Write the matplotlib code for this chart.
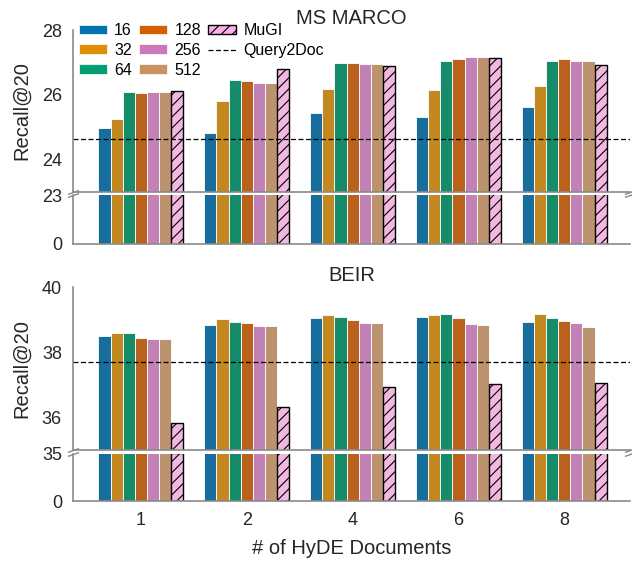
import colorsys

import numpy as np
import matplotlib
matplotlib.use("Agg")
from matplotlib import pyplot as plt
from matplotlib import colors as mcolors
from matplotlib.patches import Patch
from matplotlib.lines import Line2D

plt.rcParams["font.family"] = ["Liberation Sans", "DejaVu Sans"]
plt.rcParams["hatch.linewidth"] = 0.8

# -----------------------------------------------------------------------------
# data
# -----------------------------------------------------------------------------
n_docs = ["1", "2", "4", "6", "8"]
chunk_sizes = ["16", "32", "64", "128", "256", "512"]

msmarco = [
    [24.97, 24.83, 25.43, 25.31, 25.62],  # 16
    [25.25, 25.80, 26.18, 26.14, 26.27],  # 32
    [26.09, 26.45, 26.98, 27.04, 27.03],  # 64
    [26.07, 26.43, 26.98, 27.10, 27.10],  # 128
    [26.09, 26.37, 26.96, 27.16, 27.05],  # 256
    [26.09, 26.37, 26.96, 27.16, 27.05],  # 512
]
msmarco_mugi = [26.12, 26.79, 26.89, 27.13, 26.91]
msmarco_q2d = 24.65

beir = [
    [38.51, 38.84, 39.06, 39.07, 38.92],  # 16
    [38.60, 39.03, 39.15, 39.14, 39.18],  # 32
    [38.58, 38.93, 39.07, 39.18, 39.05],  # 64
    [38.43, 38.89, 38.99, 39.05, 38.96],  # 128
    [38.41, 38.79, 38.90, 38.87, 38.90],  # 256
    [38.41, 38.79, 38.90, 38.84, 38.78],  # 512
]
beir_mugi = [35.83, 36.32, 36.93, 37.03, 37.05]
beir_q2d = 37.69

# -----------------------------------------------------------------------------
# style
# -----------------------------------------------------------------------------
palette = ["#0173B2", "#DE8F05", "#029E73", "#D55E00", "#CC78BC", "#CA9161"]
mugi_color = "#FBAFE4"
spine_color = "#8a8a8a"


def desaturate(c, prop=0.75):
    r, g, b = mcolors.to_rgb(c)
    h, l, s = colorsys.rgb_to_hls(r, g, b)
    return colorsys.hls_to_rgb(h, l, s * prop)


L, W = 73 / 632, 557 / 632
FH = 561


def fig_box(top_px, bottom_px):
    return [L, 1 - bottom_px / FH, W, (bottom_px - top_px) / FH]


def draw_bars(ax, series, mugi):
    x = np.arange(len(n_docs))
    n = len(series) + 1
    w = 0.8 / n
    for i, vals in enumerate(series):
        ax.bar(x - 0.4 + w * (i + 0.5), vals, width=w,
               color=desaturate(palette[i]), edgecolor="white", linewidth=0.6)
    ax.bar(x - 0.4 + w * (n - 0.5), mugi, width=w, color=desaturate(mugi_color),
           edgecolor="black", linewidth=1.0, hatch="///")
    ax.set_xlim(-0.64, 4.62)


def style_ax(ax):
    for s in ["top", "right"]:
        ax.spines[s].set_visible(False)
    for s in ["left", "bottom"]:
        ax.spines[s].set_color(spine_color)
        ax.spines[s].set_linewidth(1.2)
    ax.tick_params(length=0, labelsize=13, pad=8, colors="#262626")


def broken_panel(fig, box_hi, box_lo, series, mugi, q2d, lo, hi, hi_ticks, title,
                 show_x):
    ax_hi = fig.add_axes(fig_box(*box_hi))
    ax_lo = fig.add_axes(fig_box(*box_lo))
    for ax in (ax_hi, ax_lo):
        draw_bars(ax, series, mugi)
        style_ax(ax)
    ax_hi.set_ylim(lo, hi)
    ax_hi.set_yticks(hi_ticks)
    ax_lo.set_ylim(0, lo)
    ax_lo.set_yticks([0, lo])
    ax_hi.axhline(q2d, color="black", linestyle="--", linewidth=0.9, dashes=(4, 2))
    ax_hi.set_xticks([])
    ax_lo.spines["top"].set_visible(False)
    if show_x:
        ax_lo.set_xticks(np.arange(len(n_docs)))
        ax_lo.set_xticklabels(n_docs)
        ax_lo.set_xlabel("# of HyDE Documents", fontsize=14.5, labelpad=7,
                         color="#262626")
    else:
        ax_lo.set_xticks([])
    ax_hi.set_ylabel("Recall@20", fontsize=14.5, color="#262626", labelpad=8)
    ax_hi.set_title(title, fontsize=14.5, pad=4, color="#262626")

    # break marks
    d = 0.35
    kw = dict(marker=[(-1, -d), (1, d)], markersize=8, linestyle="none",
              color=spine_color, mec=spine_color, mew=1, clip_on=False)
    ax_hi.plot([0, 1], [0, 0], transform=ax_hi.transAxes, **kw)
    ax_lo.plot([0, 1], [1, 1], transform=ax_lo.transAxes, **kw)
    return ax_hi, ax_lo


fig = plt.figure(figsize=(6.32, 5.61), dpi=100)

broken_panel(fig, (30, 192), (195, 244), msmarco, msmarco_mugi,
             msmarco_q2d, 23, 28, [24, 26, 28], "MS MARCO", False)
broken_panel(fig, (287, 450), (454, 501), beir, beir_mugi, beir_q2d,
             35, 40, [36, 38, 40], "BEIR", True)

handles = [Patch(facecolor=c, edgecolor="white", linewidth=0.5) for c in palette]
handles += [Patch(facecolor=mugi_color, edgecolor="black", hatch="///", linewidth=1.0),
            Line2D([], [], color="black", linestyle="--", linewidth=0.9, dashes=(4, 2))]
labels = chunk_sizes + ["MuGI", "Query2Doc"]
fig.legend(handles, labels, ncol=3, frameon=False, fontsize=11.5,
           loc="upper left", bbox_to_anchor=(79 / 632, 1 - 23 / FH),
           borderpad=0, borderaxespad=0, handlelength=1.75, handleheight=0.55,
           handletextpad=0.45, columnspacing=0.45, labelspacing=0.3)

fig.savefig("out.png", dpi=100)
